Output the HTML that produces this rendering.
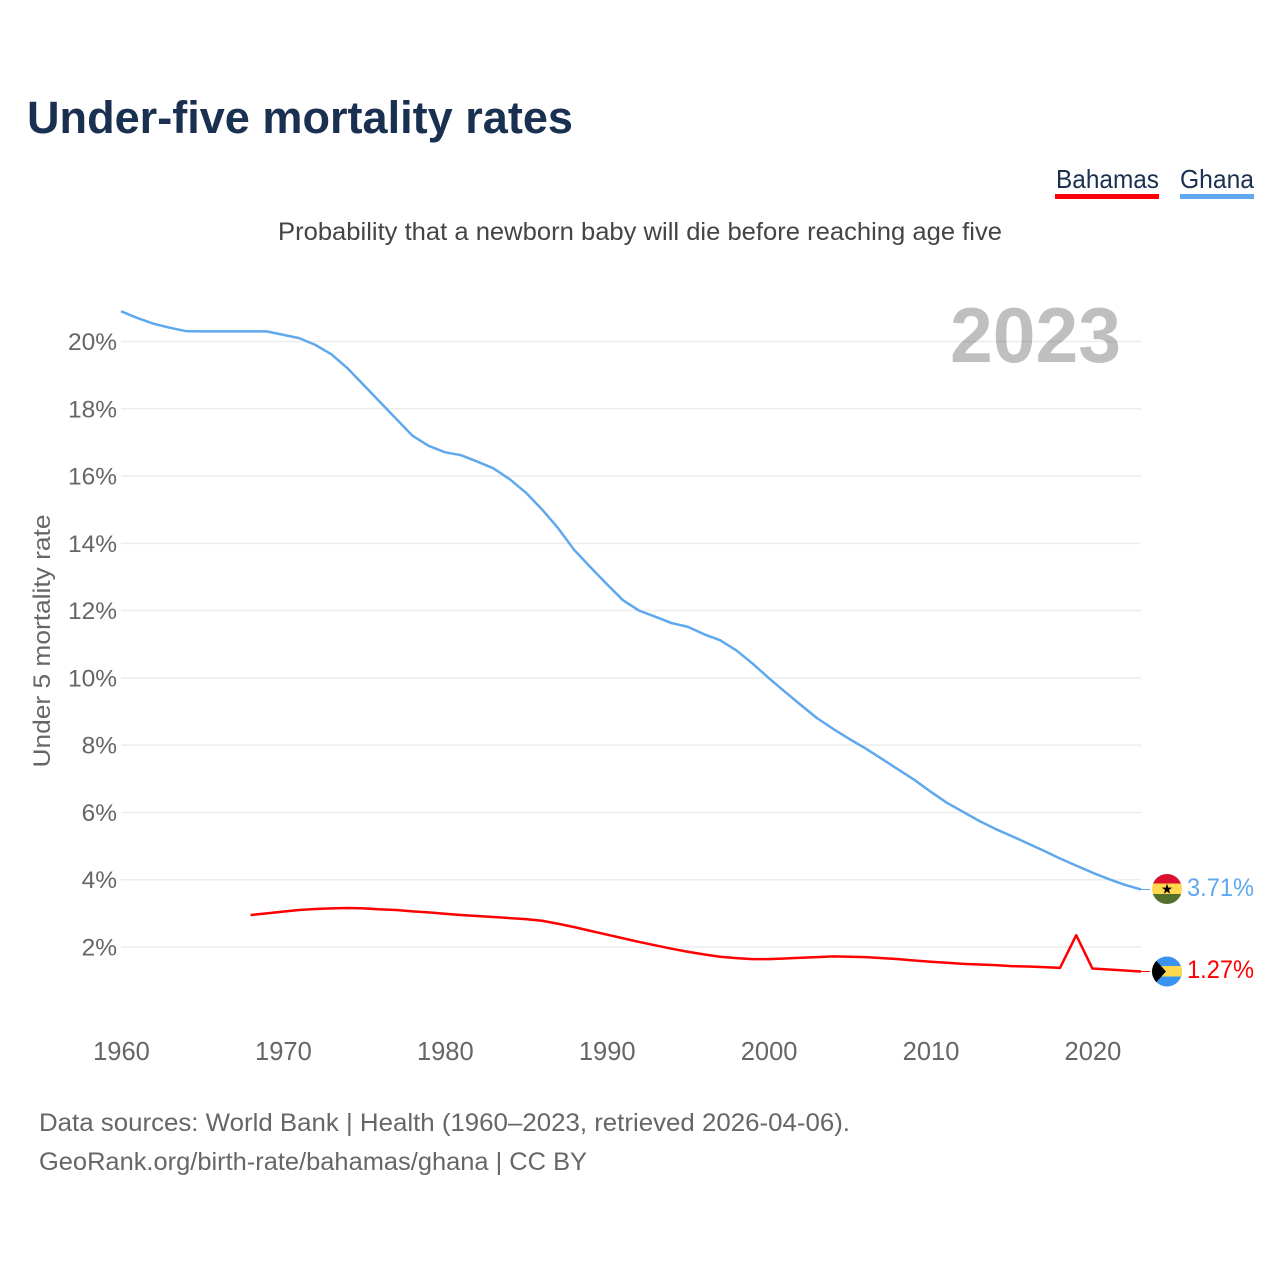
<!DOCTYPE html>
<html lang="en">
<head>
<meta charset="utf-8">
<title>Under-five mortality rates</title>
<style>
html,body{margin:0;padding:0;background:#fff;width:1280px;height:1280px;overflow:hidden}
svg{display:block}
text{font-family:"Liberation Sans",sans-serif}
</style>
</head>
<body>
<svg id="chart" xmlns="http://www.w3.org/2000/svg" width="1280" height="1280" viewBox="0 0 1280 1280">
  <rect width="1280" height="1280" fill="#fff"/>
  <text x="27" y="133" font-size="45" font-weight="700" fill="#1a3050" textLength="546" lengthAdjust="spacingAndGlyphs">Under-five mortality rates</text>
  <g>
    <text x="1056" y="188" font-size="26" fill="#1a3050" textLength="103" lengthAdjust="spacingAndGlyphs">Bahamas</text>
    <rect x="1055" y="194" width="104" height="5" fill="#ff0000"/>
  </g>
  <g>
    <text x="1180" y="188" font-size="26" fill="#1a3050" textLength="74" lengthAdjust="spacingAndGlyphs">Ghana</text>
    <rect x="1180" y="194" width="74" height="5" fill="#5fa8ee"/>
  </g>
  <text x="278" y="240" font-size="25" fill="#444" textLength="724" lengthAdjust="spacingAndGlyphs">Probability that a newborn baby will die before reaching age five</text>
  <g id="grid"></g>
  <g id="yticks"></g>
  <g id="xticks"></g>
  <text transform="translate(50,641) rotate(-90)" text-anchor="middle" font-size="24" fill="#666" textLength="253" lengthAdjust="spacingAndGlyphs">Under 5 mortality rate</text>
  <text x="950" y="362" font-size="78" font-weight="700" fill="#000" fill-opacity="0.25" textLength="171" lengthAdjust="spacingAndGlyphs">2023</text>
  <g id="series"></g>
  <g id="flag-ghana">
    <clipPath id="clip-gh"><circle cx="1167" cy="889" r="15"/></clipPath>
    <g clip-path="url(#clip-gh)">
      <rect x="1152" y="874" width="30" height="10" fill="#dc0f2e"/>
      <rect x="1152" y="883.5" width="30" height="10.5" fill="#ffd84d"/>
      <rect x="1152" y="894" width="30" height="10" fill="#54702f"/>
      <polygon points="1167,883.8 1168.3,887.6 1172.2,887.6 1169,890 1170.2,893.8 1167,891.5 1163.8,893.8 1165,890 1161.8,887.6 1165.7,887.6" fill="#000"/>
    </g>
  </g>
  <g id="flag-bahamas">
    <clipPath id="clip-bs"><circle cx="1167" cy="971.5" r="15"/></clipPath>
    <g clip-path="url(#clip-bs)">
      <rect x="1152" y="956" width="30" height="31" fill="#3a93f0"/>
      <rect x="1152" y="966" width="30" height="10.5" fill="#ffd84d"/>
      <polygon points="1152,956 1166,971.5 1152,987" fill="#000"/>
    </g>
  </g>
  <text id="val-ghana" x="1187" y="896" font-size="25" fill="#5fa8ee" textLength="67" lengthAdjust="spacingAndGlyphs"></text>
  <text id="val-bahamas" x="1187" y="978" font-size="25" fill="#ff0000" textLength="67" lengthAdjust="spacingAndGlyphs"></text>
  <text x="39" y="1131" font-size="25" fill="#666" textLength="811" lengthAdjust="spacingAndGlyphs">Data sources: World Bank | Health (1960–2023, retrieved 2026-04-06).</text>
  <text x="39" y="1170" font-size="25" fill="#666" textLength="548" lengthAdjust="spacingAndGlyphs">GeoRank.org/birth-rate/bahamas/ghana | CC BY</text>
</svg>
<script>
const yTickValues = [2, 4, 6, 8, 10, 12, 14, 16, 18, 20];
const xTickYears = [1960, 1970, 1980, 1990, 2000, 2010, 2020];
const ghanaStartYear = 1960;
const ghanaValues = [20.9,20.7,20.53,20.41,20.31,20.3,20.3,20.3,20.3,20.3,20.2,20.1,19.9,19.62,19.2,18.7,18.2,17.7,17.2,16.9,16.71,16.62,16.43,16.23,15.91,15.51,15.01,14.45,13.8,13.29,12.79,12.31,12.0,11.82,11.63,11.52,11.3,11.12,10.82,10.43,10.0,9.59,9.19,8.8,8.48,8.18,7.9,7.59,7.28,6.97,6.62,6.29,6.02,5.75,5.51,5.3,5.08,4.86,4.63,4.42,4.21,4.02,3.85,3.71];
const bahamasStartYear = 1968;
const bahamasValues = [2.95,3.0,3.05,3.1,3.13,3.15,3.16,3.15,3.12,3.1,3.06,3.03,2.99,2.95,2.92,2.89,2.86,2.83,2.78,2.69,2.59,2.48,2.37,2.26,2.15,2.05,1.95,1.86,1.78,1.71,1.67,1.64,1.64,1.66,1.68,1.7,1.72,1.71,1.7,1.67,1.64,1.6,1.56,1.53,1.5,1.48,1.46,1.43,1.42,1.4,1.38,2.35,1.36,1.33,1.3,1.27];

const NS = 'http://www.w3.org/2000/svg';
const plotLeft = 121, plotRight = 1141;
function xScale(year) { return plotLeft + (year - 1960) * (plotRight - plotLeft) / 63; }
function yScale(v) { return 947 - (v - 2) * (947 - 341.5) / 18; }

const grid = document.getElementById('grid');
const yticks = document.getElementById('yticks');
yTickValues.forEach(function (v) {
  const line = document.createElementNS(NS, 'line');
  
  
  line.setAttribute('x1', plotLeft);
  line.setAttribute('x2', plotRight);
  line.setAttribute('y1', yScale(v));
  line.setAttribute('y2', yScale(v));
  line.setAttribute('stroke', '#ececec');
  line.setAttribute('stroke-width', '1.5');
  grid.appendChild(line);
  const t = document.createElementNS(NS, 'text');
  
  
  t.setAttribute('x', 117);
  t.setAttribute('y', yScale(v) + 8.5);
  t.setAttribute('text-anchor', 'end');
  t.setAttribute('font-size', '24.5');
  t.setAttribute('fill', '#666');
  t.textContent = v + '%';
  yticks.appendChild(t);
});

const xticks = document.getElementById('xticks');
xTickYears.forEach(function (yr) {
  const t = document.createElementNS(NS, 'text');
  
  
  t.setAttribute('x', xScale(yr) + 0.5);
  t.setAttribute('y', 1060);
  t.setAttribute('text-anchor', 'middle');
  t.setAttribute('font-size', '25.5');
  t.setAttribute('fill', '#666');
  t.textContent = yr;
  xticks.appendChild(t);
});

function pathFor(values, start) {
  return values.map(function (v, i) {
    return (i ? 'L' : 'M') + xScale(start + i).toFixed(2) + ' ' + yScale(v).toFixed(2);
  }).join(' ');
}
const series = document.getElementById('series');
const ghanaLine = document.createElementNS(NS, 'path');


ghanaLine.setAttribute('d', pathFor(ghanaValues, ghanaStartYear));
ghanaLine.setAttribute('fill', 'none');
ghanaLine.setAttribute('stroke', '#5fa8ee');
ghanaLine.setAttribute('stroke-width', '2.5');
ghanaLine.setAttribute('stroke-linejoin', 'round');
series.appendChild(ghanaLine);
const bahamasLine = document.createElementNS(NS, 'path');


bahamasLine.setAttribute('d', pathFor(bahamasValues, bahamasStartYear));
bahamasLine.setAttribute('fill', 'none');
bahamasLine.setAttribute('stroke', '#ff0000');
bahamasLine.setAttribute('stroke-width', '2.5');
bahamasLine.setAttribute('stroke-linejoin', 'round');
series.appendChild(bahamasLine);

const ghanaLast = ghanaValues[ghanaValues.length - 1];
const bahamasLast = bahamasValues[bahamasValues.length - 1];
const ghanaConn = document.createElementNS(NS, 'line');


ghanaConn.setAttribute('x1', plotRight);
ghanaConn.setAttribute('x2', 1150);
ghanaConn.setAttribute('y1', yScale(ghanaLast));
ghanaConn.setAttribute('y2', yScale(ghanaLast));
ghanaConn.setAttribute('stroke', '#5fa8ee');
ghanaConn.setAttribute('stroke-width', '1');
series.appendChild(ghanaConn);
const bahamasConn = document.createElementNS(NS, 'line');


bahamasConn.setAttribute('x1', plotRight);
bahamasConn.setAttribute('x2', 1150);
bahamasConn.setAttribute('y1', yScale(bahamasLast));
bahamasConn.setAttribute('y2', yScale(bahamasLast));
bahamasConn.setAttribute('stroke', '#ff0000');
bahamasConn.setAttribute('stroke-width', '1');
series.appendChild(bahamasConn);

document.getElementById('val-ghana').textContent = ghanaLast.toFixed(2) + '%';
document.getElementById('val-bahamas').textContent = bahamasLast.toFixed(2) + '%';
</script>
</body>
</html>
